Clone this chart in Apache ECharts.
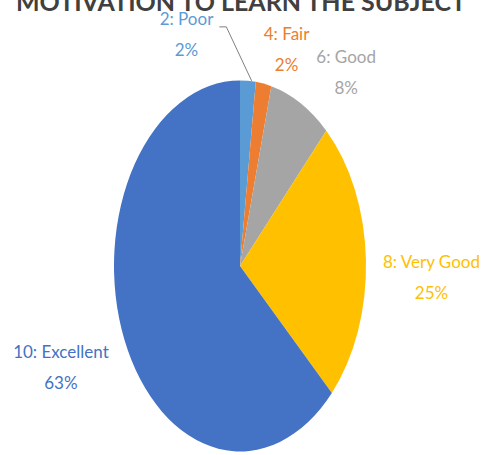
<!DOCTYPE html>
<html><head><meta charset="utf-8">
<script src="https://cdn.jsdelivr.net/npm/echarts@6/dist/echarts.min.js"></script>
<style>
html,body{margin:0;padding:0;background:#fff;overflow:hidden}
#wrap{position:relative;width:482px;height:455px;background:#fff}
#pie{position:absolute;left:0;top:0;width:482px;height:309px;transform:scaleY(1.4725);transform-origin:0 0}
#labels{position:absolute;left:0;top:0;width:482px;height:455px}
</style></head><body>
<div id="wrap"><div id="pie"></div><div id="labels"></div></div>
<script>
const titleText = 'MOTIVATION TO LEARN THE SUBJECT';
const categories = ['2: Poor', '4: Fair', '6: Good', '8: Very Good', '10: Excellent'];
const values = [2, 2, 8, 25, 63];
const colors = ['#5b9bd5', '#ed7d31', '#a5a5a5', '#ffc000', '#4472c4'];
const labelOffsets = [[-92, -54], [-11, -42], [-13, -38], [-43, 10], [39, 20]];

const FONT = 'Lato';

// Pie (drawn, stretched vertically into an ellipse)
const pieChart = echarts.init(document.getElementById('pie'), null, {renderer: 'svg'});
pieChart.setOption({
  animation: false,
  backgroundColor: '#fff',
  series: [{
    type: 'pie',
    center: [240, 180.6],
    radius: 126,
    startAngle: 90,
    clockwise: true,
    silent: true,
    label: {show: false},
    labelLine: {show: false},
    itemStyle: {borderWidth: 0},
    data: categories.map((c, i) => ({name: c, value: values[i], itemStyle: {color: colors[i]}}))
  }]
});

// Labels + title (unstretched overlay)
const labelChart = echarts.init(document.getElementById('labels'), null, {renderer: 'svg'});
labelChart.setOption({
  animation: false,
  graphic: [{
    type: 'text',
    left: 'center',
    style: {
      text: titleText, x: 239, y: 1, align: 'center', verticalAlign: 'middle',
      fontFamily: FONT, fontWeight: 'bold', fontSize: 25, fill: '#404040'
    },
    position: [0, 0]
  }],
  series: [{
    type: 'pie',
    center: [240, 266],
    radius: 185.5,
    startAngle: 90,
    clockwise: true,
    silent: true,
    avoidLabelOverlap: false,
    itemStyle: {color: 'rgba(0,0,0,0)', borderWidth: 0},
    emphasis: {disabled: true},
    label: {
      show: true,
      position: 'outside',
      distanceToLabelLine: 0,
      fontFamily: FONT,
      fontSize: 17,
      formatter: '{c|{b}}\n{c|{d}%}',
      rich: {c: {align: 'center', lineHeight: 31, fontFamily: FONT, fontSize: 17}}
    },
    labelLine: {show: false, length: 0, length2: 0},
    labelLayout: function (p) {
      const o = labelOffsets[p.dataIndex];
      const r = p.labelRect;
      const x = r.x + o[0], y = r.y + o[1];
      const res = {x: x, y: y, align: 'left', verticalAlign: 'top'};
      if (p.dataIndex === 0 && p.labelLinePoints) {
        const p0 = p.labelLinePoints[0];
        const ly = y + 24;
        res.labelLinePoints = [[p0[0], p0[1]], [x + r.width + 13, ly], [x + r.width + 6, ly]];
      }
      return res;
    },
    data: categories.map((c, i) => ({
      name: c,
      value: values[i],
      label: {color: colors[i]},
      labelLine: i === 0 ? {show: true, lineStyle: {color: '#7f7f7f', width: 1}} : {show: false}
    }))
  }]
});
</script>
</body></html>
